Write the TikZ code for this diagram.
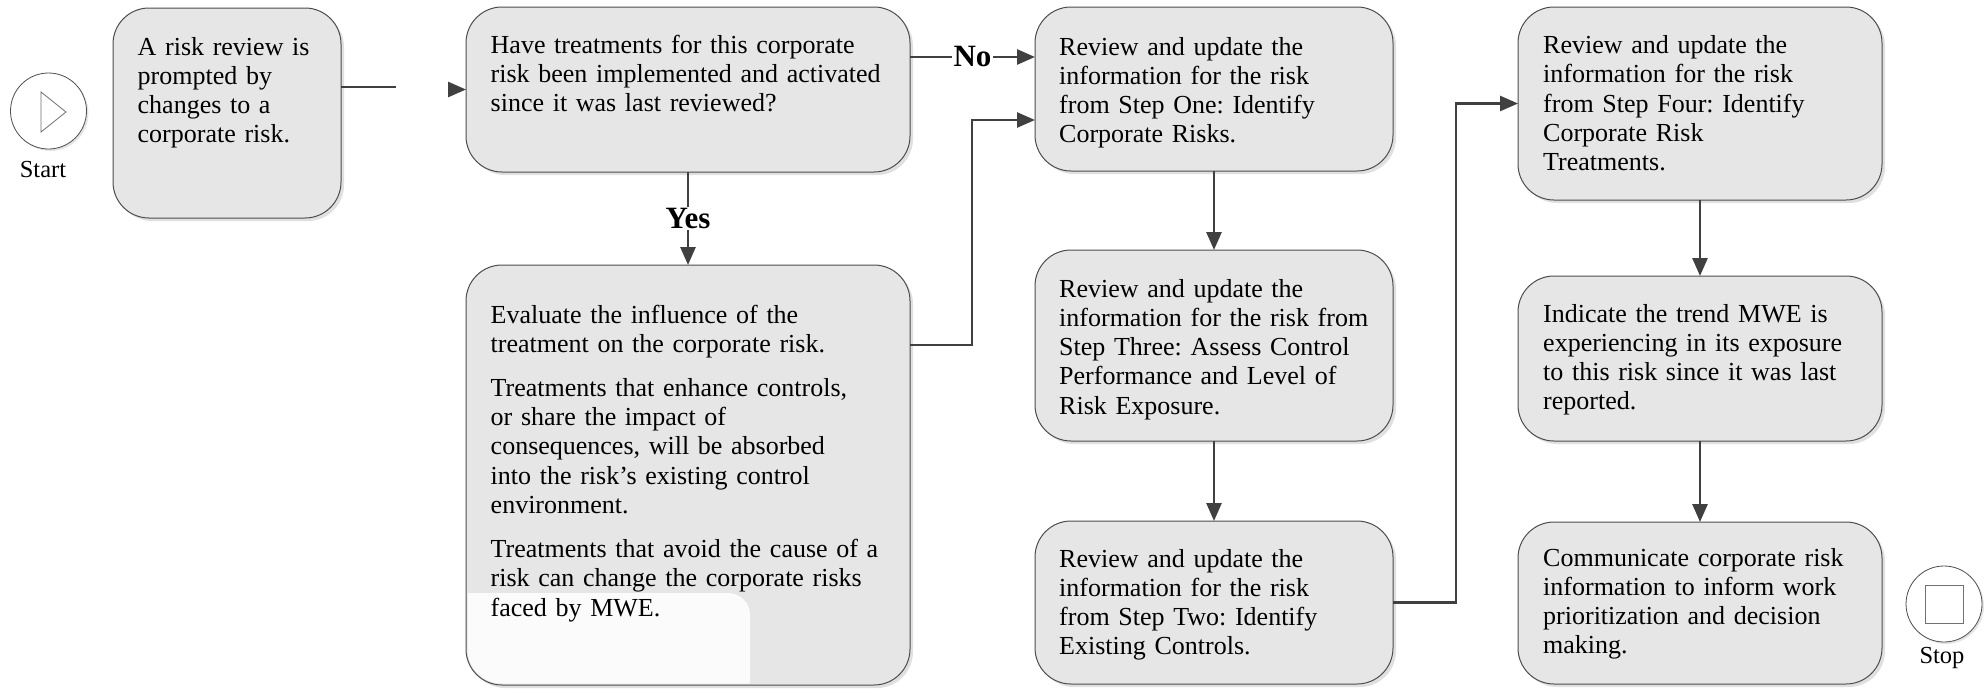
\documentclass[tikz,border=0pt]{standalone}
\usepackage{fontspec}
\setmainfont{Liberation Serif}
\usepackage{xcolor}
\usepackage{tikz}
\usetikzlibrary{calc}
\usetikzlibrary{arrows.meta}
\usetikzlibrary{shadows}
\tikzset{>={Triangle[length=18pt, width=15pt]}}
\frenchspacing

\definecolor{boxfill}{HTML}{E6E6E6}
\definecolor{boxline}{HTML}{4D4D4D}
\definecolor{arrowgray}{HTML}{404040}
\definecolor{patchfill}{HTML}{FBFBFB}

\tikzset{
	box/.style={draw=boxline, fill=boxfill, line width=1pt, rounded corners=36pt,
		anchor=north west, inner sep=0pt, outer sep=0pt,
		general shadow={fill=black!12, shadow xshift=3pt, shadow yshift=-3pt}},
	txt/.style={anchor=base west, inner sep=0pt, align=left, text width=#1,
		font=\fontsize{26}{29.3}\selectfont},
	conn/.style={draw=arrowgray, line width=2.7pt},
	lab/.style={fill=white, inner sep=1.5pt, font=\fontsize{31}{34}\selectfont\bfseries},
	term/.style={circle, draw=boxline, line width=0.8pt, fill=white,
		minimum size=76pt, inner sep=0pt,
		general shadow={fill=black!10, shadow xshift=2pt, shadow yshift=-2pt}},
	termlab/.style={inner sep=0pt, font=\fontsize{24.5}{28}\selectfont}
}

\begin{document}
\begin{tikzpicture}[x=1pt, y=-1pt]
	\useasboundingbox (0,0) rectangle (1986,688);

	% Boxes
	\foreach \n/\x/\y/\w/\h in {A/113/8/228/210, B/466/7/444/165, E/466/265/444/420,
		C/1035/7/358/164, D/1035/250/358/191, F/1035/521/358/163,
		G/1518/7/364/193, H/1518/276/364/165, I/1518/522/364/162}
	{
	\node[box, minimum width=\w pt, minimum height=\h pt] (\n) at (\x,\y) {};
	}

	% Patch
	\begin{scope}
	\clip[rounded corners=34.5pt] ($(E.south west)+(1.5,-1.5)$) rectangle ($(E.north east)+(-1.5,1.5)$);
	\fill[patchfill, rounded corners=22pt] (420,593) rectangle (750,720);
	\end{scope}

	% Texts
	\node[txt=200pt] (A-t) at ($(A.north west)+(24.5,47)$)
	{A risk review is\\prompted by\\changes to a\\corporate risk.};
	\node[txt=410pt] (B-t) at ($(B.north west)+(24.5,46)$)
	{Have treatments for this corporate\\risk been implemented and activated\\since it was last reviewed?};
	\node[txt=410pt] (E-t) at ($(E.north west)+(24.5,58)$)
	{Evaluate the influence of the\\treatment on the corporate risk.\\[14.7pt]
	Treatments that enhance controls,\\or share the impact of\\consequences, will be absorbed\\
	into the risk's existing control\\environment.\\[14.7pt]
	Treatments that avoid the cause of a\\risk can change the corporate risks\\faced by MWE.};
	\node[txt=330pt] (C-t) at ($(C.north west)+(24,48)$)
	{Review and update the\\information for the risk\\from Step One: Identify\\Corporate Risks.};
	\node[txt=330pt] (D-t) at ($(D.north west)+(24,47)$)
	{Review and update the\\information for the risk from\\Step Three: Assess Control\\Performance and Level of\\Risk Exposure.};
	\node[txt=330pt] (F-t) at ($(F.north west)+(24,46)$)
	{Review and update the\\information for the risk\\from Step Two: Identify\\Existing Controls.};
	\node[txt=340pt] (G-t) at ($(G.north west)+(25,46.5)$)
	{Review and update the\\information for the risk\\from Step Four: Identify\\Corporate Risk\\Treatments.};
	\node[txt=340pt] (H-t) at ($(H.north west)+(25,46)$)
	{Indicate the trend MWE is\\experiencing in its exposure\\to this risk since it was last\\reported.};
	\node[txt=340pt] (I-t) at ($(I.north west)+(25,44)$)
	{Communicate corporate risk\\information to inform work\\prioritization and decision\\making.};

	% Start / Stop
	\node[term] (start) at (48.5,111) {};
	\draw[boxline!80, line width=0.8pt] ($(start)+(-7.5,-19)$) -- ($(start)+(17.5,1)$) -- ($(start)+(-7.5,21)$) -- cycle;
	\node[termlab] (start-l) at (43,170) {Start};
	\node[term] (stop) at (1944,604) {};
	\draw[boxline!80, line width=0.8pt] ($(stop)+(-19,-19)$) rectangle ($(stop)+(19,19)$);
	\node[termlab] (stop-l) at (1942,658) {Stop};

	% Connectors
	\draw[conn] (A.east |- 0,87) -- ++(55,0);
	\draw[conn,->] ($(B.west)+(-18,0)$) -- (B.west);
	\draw[conn,->] (B.east |- 0,57) -- node[lab] (no) {No} (C.west |- 0,57);
	\draw[conn,->] (B.south) -- node[lab] (yes) {Yes} (E.north);
	\coordinate (EC) at (972,345);
	\draw[conn,->] (E.east |- EC) -- (EC) |- (C.west |- 0,120);
	\draw[conn,->] (F.east) -- ++(63,0) |- (G.west);
	\foreach \a/\b in {C/D, D/F, G/H, H/I}
	{
	\draw[conn,->] (\a) -- (\b);
	}

\end{tikzpicture}
\end{document}
